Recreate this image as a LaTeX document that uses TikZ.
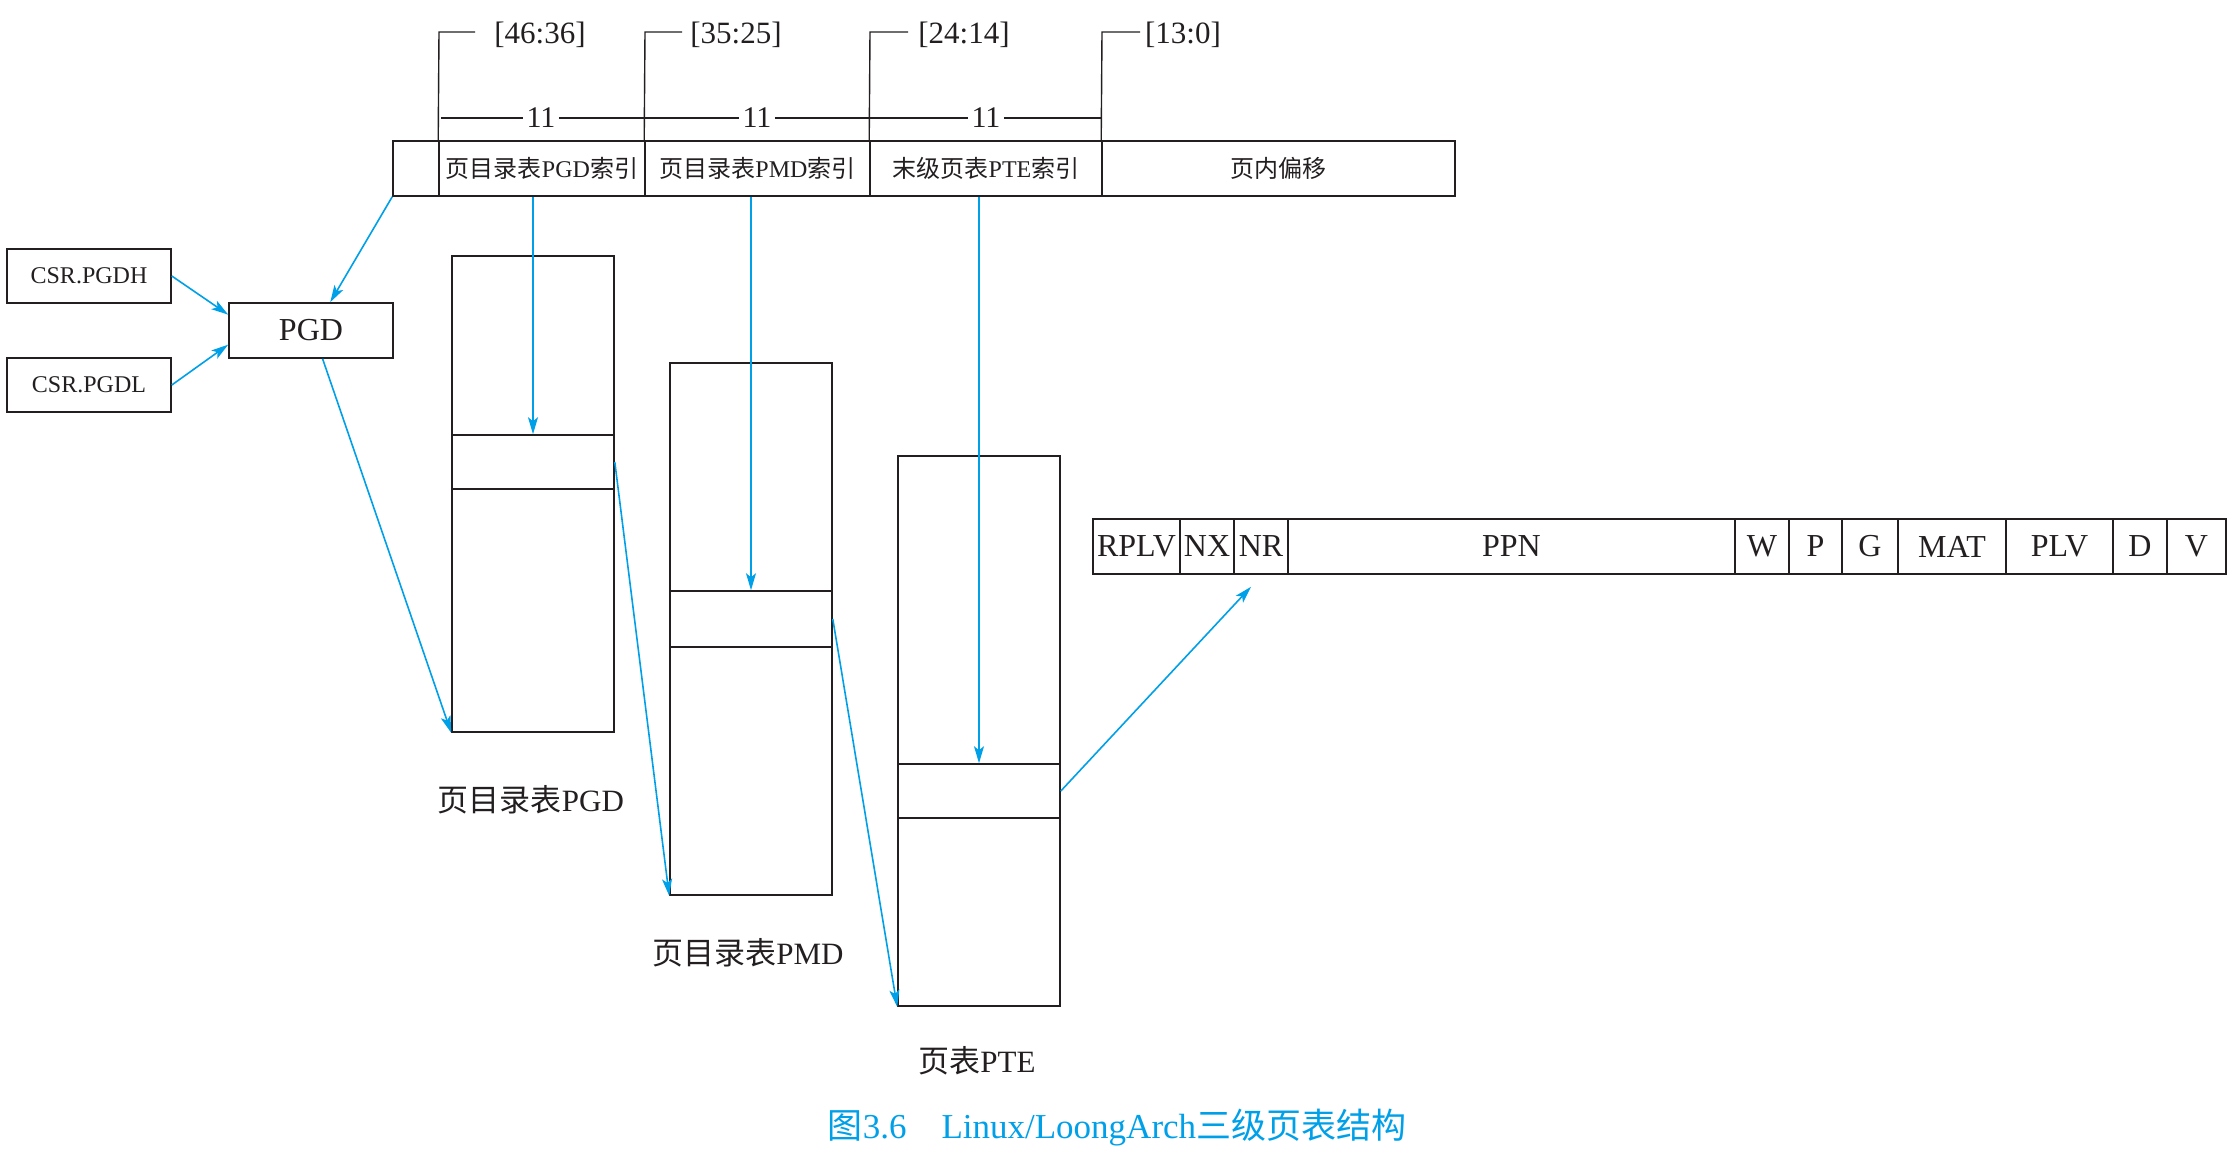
\documentclass[tikz,border=0pt]{standalone}
\usepackage{fontspec}
\setmainfont{Liberation Serif}
\newfontfamily\cjk{Noto Sans CJK SC}
\usetikzlibrary{arrows.meta,calc}
\definecolor{ink}{RGB}{35,31,32}
\definecolor{cyanline}{RGB}{0,160,233}
\newcommand\zh[1]{{\cjk #1}}
\newcommand\barcell[4]{\node[barbox,minimum width={(#3-#2)*0.5pt}] (#1) at ({(#2+#3)/2},168.5) {#4};}
\newcommand\fmtcell[4]{\node[fmtbox,minimum width={(#3-#2)*0.5pt}] (#1) at ({(#2+#3)/2},546.5) {#4};}
\begin{document}
\begin{tikzpicture}[x=0.5pt,y=-0.5pt,
  box/.style={draw=ink,line width=0.8pt,inner sep=0pt,text=ink},
  barbox/.style={box,minimum height=27.5pt,font=\fontsize{12}{14}\selectfont},
  fmtbox/.style={box,minimum height=27.5pt,font=\fontsize{16}{18}\selectfont},
  regbox/.style={box,minimum width=82pt,minimum height=27pt,font=\fontsize{12}{14}\selectfont},
  tablebox/.style={box,minimum width=81pt},
  inkline/.style={draw=ink,line width=0.7pt},
  bitlab/.style={text=ink,inner sep=0pt,font=\fontsize{15.5}{18}\selectfont},
  elevenlab/.style={text=ink,inner sep=1.5pt,font=\fontsize{15}{18}\selectfont},
  tablab/.style={text=ink,inner sep=0pt,font=\fontsize{15.5}{18}\selectfont},
  arr/.style={draw=cyanline,line width=0.8pt,-{Stealth[length=8.5pt,width=5pt,inset=2pt]}},
]
\useasboundingbox (0,0) rectangle (2234,1157);

% virtual address bar
\barcell{b0}{393}{439}{}
\barcell{b1}{439}{645}{\zh{页目录表}PGD\zh{索引}}
\barcell{b2}{645}{870}{\zh{页目录表}PMD\zh{索引}}
\barcell{b3}{870}{1102}{\zh{末级页表}PTE\zh{索引}}
\barcell{b4}{1102}{1455}{\zh{页内偏移}}

% bit ranges
\coordinate (t1) at (439,32);
\coordinate (t2) at (645,32);
\coordinate (t3) at (870,32);
\coordinate (t4) at (1102,32);
\draw[inkline] (b1.north west) -- (t1) -- ++(36,0);
\draw[inkline] (b2.north west) -- (t2) -- ++(37,0);
\draw[inkline] (b3.north west) -- (t3) -- ++(38,0);
\draw[inkline] (b4.north west) -- (t4) -- ++(38,0);
\node[bitlab] (r1) at (540,35) {[46:36]};
\node[bitlab] (r2) at (736,35) {[35:25]};
\node[bitlab] (r3) at (964,35) {[24:14]};
\node[bitlab] (r4) at (1183,35) {[13:0]};

% widths
\coordinate (s11) at (441,118);
\coordinate (e11) at (1102,118);
\node[elevenlab] (n1) at (541,118) {11};
\node[elevenlab] (n2) at (757,118) {11};
\node[elevenlab] (n3) at (986,118) {11};
\draw[inkline] (s11) -- (n1) -- (n2) -- (n3) -- (e11);

% registers
\node[regbox] (csrh) at (89,276) {CSR.PGDH};
\node[regbox] (csrl) at (89,385) {CSR.PGDL};
\node[box,minimum width=82pt,minimum height=27.5pt,font=\fontsize{16}{18}\selectfont] (pgd) at (311,330.5) {PGD};

% tables
\node[tablebox,minimum height=238pt] (tpgd) at (533,494) {};
\node[tablebox,minimum height=27pt] (epgd) at (533,462) {};
\node[tablebox,minimum height=266pt] (tpmd) at (751,629) {};
\node[tablebox,minimum height=28pt] (epmd) at (751,619) {};
\node[tablebox,minimum height=275pt] (tpte) at (979,731) {};
\node[tablebox,minimum height=27pt] (epte) at (979,791) {};

\node[tablab] (lpgd) at (531,800) {\zh{页目录表}PGD};
\node[tablab] (lpmd) at (748,953) {\zh{页目录表}PMD};
\node[tablab] (lpte) at (977,1061) {\zh{页表}PTE};

% PTE format
\fmtcell{rplv}{1093}{1180}{RPLV}
\fmtcell{nx}{1180}{1234}{NX}
\fmtcell{nr}{1234}{1288}{NR}
\fmtcell{ppn}{1288}{1735}{PPN}
\fmtcell{w}{1735}{1789}{W}
\fmtcell{p}{1789}{1842}{P}
\fmtcell{g}{1842}{1898}{G}
\fmtcell{mat}{1898}{2006}{MAT}
\fmtcell{plv}{2006}{2113}{PLV}
\fmtcell{d}{2113}{2167}{D}
\fmtcell{v}{2167}{2226}{V}

% arrows
\draw[arr] (b0.south west) -- ($(pgd.north west)!0.616!(pgd.north east)$);
\draw[arr] (csrh.east) -- ($(pgd.north west)!0.22!(pgd.south west)$);
\draw[arr] (csrl.east) -- ($(pgd.north west)!0.75!(pgd.south west)$);
\draw[arr] ($(pgd.south west)!0.57!(pgd.south east)$) -- (tpgd.south west);
\draw[arr] (epgd.north |- b1.south) -- (epgd.north);
\draw[arr] (epmd.north |- b2.south) -- (epmd.north);
\draw[arr] (epte.north |- b3.south) -- (epte.north);
\draw[arr] (epgd.east) -- (tpmd.south west);
\draw[arr] (epmd.east) -- (tpte.south west);
\draw[arr] (epte.east) -- ($(nr.south)+(-10,12)$);

% caption
\node[text=cyanline,font=\fontsize{17.5}{20}\selectfont] (cap) at (1117,1128) {\zh{图}3.6\quad Linux/LoongArch\zh{三级页表结构}};
\end{tikzpicture}
\end{document}
